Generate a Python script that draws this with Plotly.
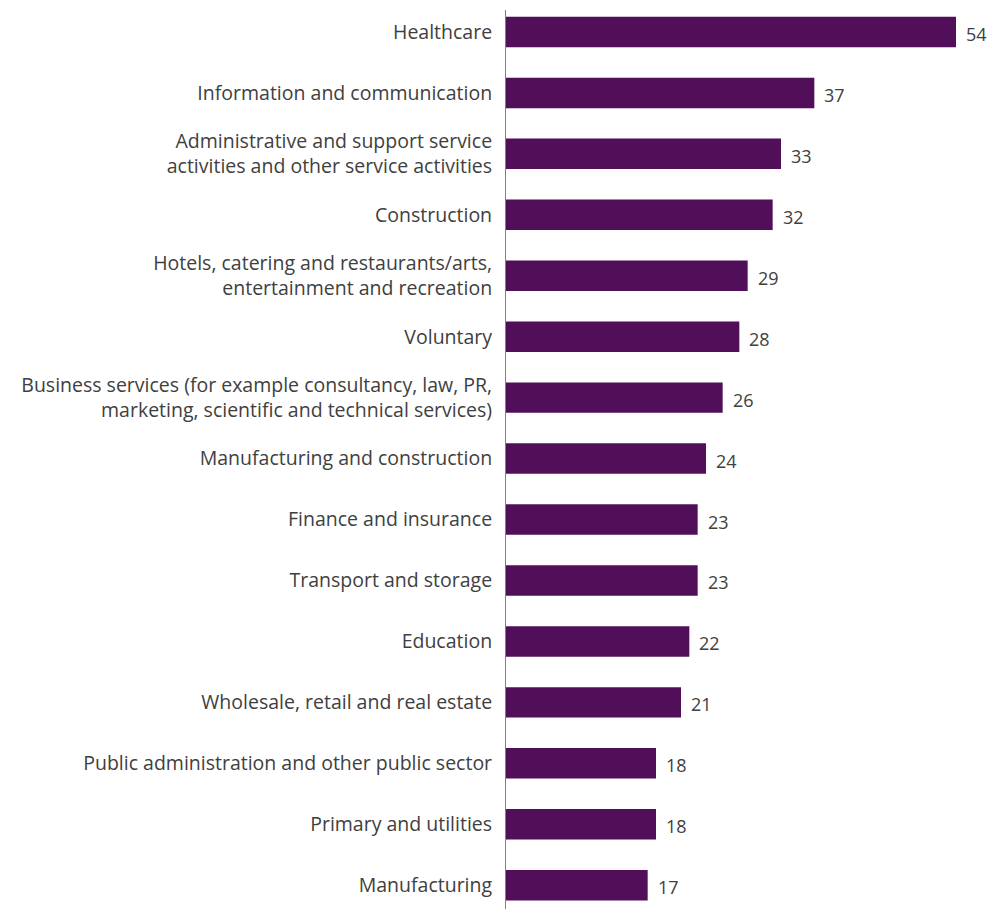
import plotly.graph_objects as go

sectors = [
    "Healthcare",
    "Information and communication",
    "Administrative and support service<br>activities and other service activities",
    "Construction",
    "Hotels, catering and restaurants/arts,<br>entertainment and recreation",
    "Voluntary",
    "Business services (for example consultancy, law, PR,<br>marketing, scientific and technical services)",
    "Manufacturing and construction",
    "Finance and insurance",
    "Transport and storage",
    "Education",
    "Wholesale, retail and real estate",
    "Public administration and other public sector",
    "Primary and utilities",
    "Manufacturing",
]
values = [54, 37, 33, 32, 29, 28, 26, 24, 23, 23, 22, 21, 18, 18, 17]

BAR = "#520f59"
TEXT = "#404040"
FONT = "Open Sans"

fig = go.Figure(
    go.Bar(
        x=values,
        y=sectors,
        orientation="h",
        marker=dict(color=BAR, line=dict(width=0)),
        width=0.5,
        hoverinfo="skip",
    )
)

# value labels just to the right of each bar
for s, v in zip(sectors, values):
    fig.add_annotation(
        x=v, y=s, text=str(v), showarrow=False,
        xanchor="left", yanchor="middle", xshift=8, yshift=-2,
        font=dict(family=FONT, size=18, color=TEXT),
    )

fig.update_layout(
    width=987, height=909,
    margin=dict(l=506, r=6, t=10, b=0),
    paper_bgcolor="white", plot_bgcolor="white",
    showlegend=False,
    font=dict(family=FONT, size=19.5, color=TEXT),
    xaxis=dict(range=[0, 57], visible=False, fixedrange=True),
    yaxis=dict(
        type="category",
        range=[14.39, -0.36],
        showline=True, linecolor="#808080", linewidth=1,
        showgrid=False, zeroline=False, ticks="",
        ticklabelstandoff=9,
        tickfont=dict(family=FONT, size=19.5, color=TEXT),
    ),
)

fig.write_html("out.html")
